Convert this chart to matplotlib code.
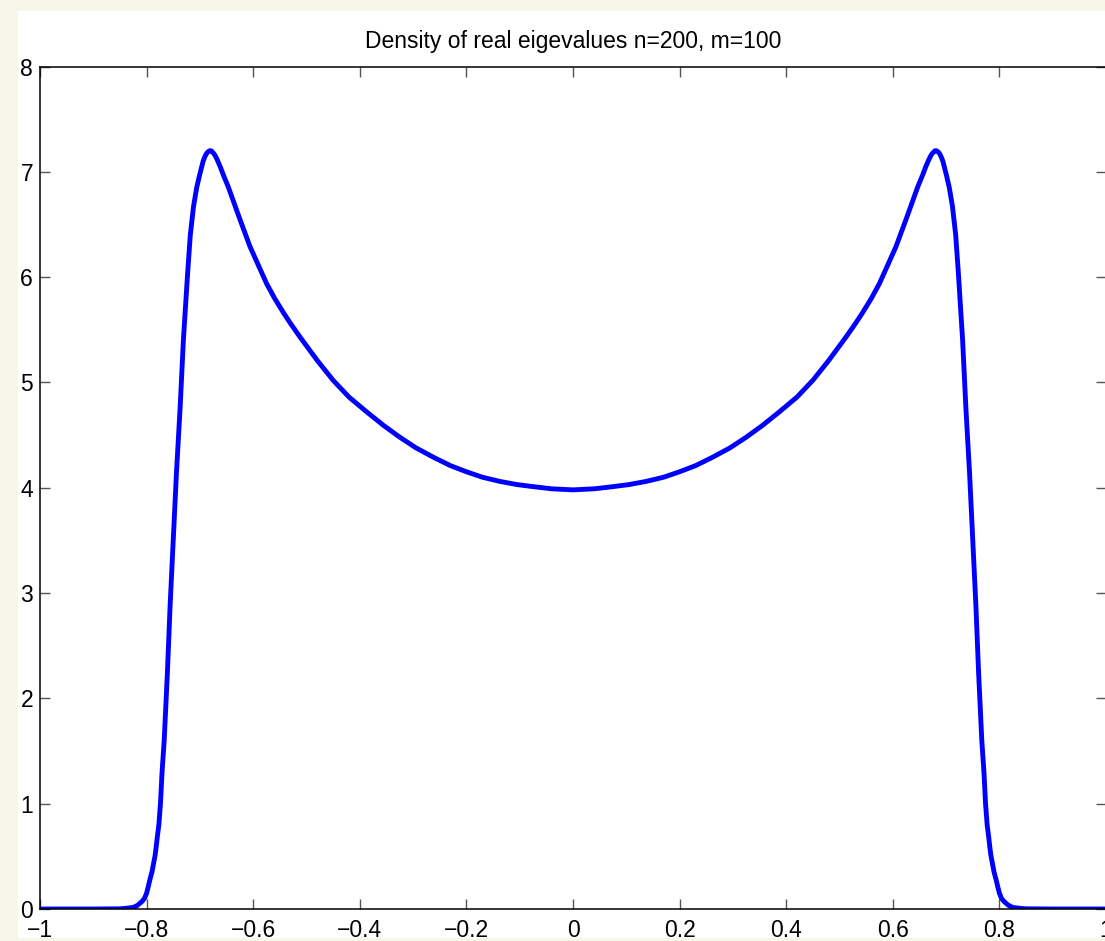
import matplotlib
matplotlib.use("Agg")
import matplotlib.pyplot as plt
from matplotlib.patches import Rectangle
import numpy as np

# left half of the density curve (curve is symmetric about 0)
x_left = [-1.000, -0.900, -0.850, -0.840, -0.825, -0.817, -0.809, -0.804, -0.800,
          -0.797, -0.794, -0.790, -0.787, -0.784, -0.782, -0.780, -0.777, -0.774,
          -0.771, -0.767, -0.761, -0.756, -0.750, -0.744, -0.737, -0.731, -0.727,
          -0.723, -0.718, -0.712, -0.706, -0.701, -0.697, -0.694, -0.691, -0.688,
          -0.685, -0.682, -0.679, -0.675, -0.672, -0.668, -0.662, -0.656, -0.647,
          -0.637, -0.625, -0.606, -0.590, -0.575, -0.560, -0.543, -0.530, -0.512,
          -0.480, -0.450, -0.420, -0.387, -0.355, -0.325, -0.295, -0.262, -0.230,
          -0.199, -0.170, -0.137, -0.105, -0.074, -0.040]
y_left = [0.00, 0.00, 0.002, 0.006, 0.015, 0.035, 0.07, 0.10, 0.15,
          0.21, 0.275, 0.35, 0.43, 0.51, 0.59, 0.68, 0.80, 1.00,
          1.30, 1.60, 2.24, 2.87, 3.50, 4.14, 4.77, 5.40, 5.72,
          6.04, 6.40, 6.67, 6.85, 6.96, 7.04, 7.10, 7.14, 7.17,
          7.19, 7.20, 7.20, 7.18, 7.16, 7.12, 7.05, 6.97, 6.86,
          6.72, 6.55, 6.29, 6.11, 5.94, 5.80, 5.66, 5.56, 5.43,
          5.21, 5.02, 4.86, 4.72, 4.59, 4.48, 4.38, 4.29, 4.21,
          4.15, 4.10, 4.06, 4.03, 4.01, 3.99]
y_mid = 3.98

x_vals = x_left + [0.0] + [-v for v in x_left[::-1]]
y_vals = y_left + [y_mid] + y_left[::-1]

x_ticks = [-1, -0.8, -0.6, -0.4, -0.2, 0, 0.2, 0.4, 0.6, 0.8, 1]
x_labels = ["\u22121", "\u22120.8", "\u22120.6", "\u22120.4", "\u22120.2", "0",
            "0.2", "0.4", "0.6", "0.8", "1"]
y_ticks = [0, 1, 2, 3, 4, 5, 6, 7, 8]

plt.rcParams['font.family'] = ['Liberation Sans', 'DejaVu Sans']

W, H = 1105, 941
fig = plt.figure(figsize=(W / 100, H / 100), dpi=100, facecolor="#f6f6e9")
# white panel behind the axes
fig.patches.append(Rectangle((18 / W, 3 / H), 1 - 18 / W, (938 - 11) / H,
                             transform=fig.transFigure, facecolor="white",
                             edgecolor="none", zorder=-1))

ax = fig.add_axes([40 / W, (H - 909) / H, (1106 - 40) / W, (909 - 66.5) / H])
ax.plot(x_vals, y_vals, color="#0000ff", linewidth=3.5,
        solid_capstyle="round", solid_joinstyle="round")

ax.set_xlim(-1, 1)
ax.set_ylim(0, 8)
ax.set_xticks(x_ticks)
ax.set_xticklabels(x_labels)
ax.set_yticks(y_ticks)
ax.tick_params(direction="in", length=7, width=1, color="#555555",
               top=True, right=True, labelsize=16.5, labelcolor="black")
ax.tick_params(axis="x", pad=7)
ax.tick_params(axis="y", pad=5)
for s in ax.spines.values():
    s.set_linewidth(1.1)
    s.set_color("black")

ax.set_title("Density of real eigevalues n=200, m=100", fontsize=16.5, pad=13)

fig.savefig("out.png", dpi=100, facecolor=fig.get_facecolor())
